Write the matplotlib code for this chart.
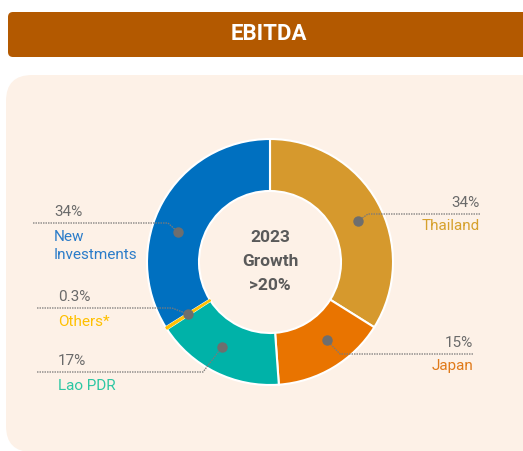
import numpy as np
import matplotlib
matplotlib.use("Agg")
import matplotlib.pyplot as plt
from matplotlib.patches import FancyBboxPatch

plt.rcParams['font.family'] = ['Roboto', 'DejaVu Sans']

title = "EBITDA"
center_lines = ["2023", "Growth", ">20%"]
categories = ["Thailand", "Japan", "Lao PDR", "Others*", "New\nInvestments"]
values = [34, 15, 17, 0.3, 34]
pct_labels = ["34%", "15%", "17%", "0.3%", "34%"]
colors = ["#D6992D", "#E97400", "#00B2A8", "#FFC000", "#0070C0"]
label_colors = ["#D6A12D", "#E07A1A", "#2DC7A3", "#FFC000", "#2B7CC9"]

W, H = 523, 451
fig = plt.figure(figsize=(W / 100, H / 100), dpi=100)
ax = fig.add_axes([0, 0, 1, 1])
ax.set_xlim(0, W)
ax.set_ylim(0, H)
ax.set_aspect('equal')
ax.axis('off')
fig.patch.set_facecolor('white')

def Y(y):
    return H - y

# panel
panel = FancyBboxPatch((6, Y(452)), 540, 452 - 75, boxstyle="round,pad=0,rounding_size=26",
                       facecolor="#FDF1E7", edgecolor="none", zorder=0)
ax.add_patch(panel)
# title bar
bar = FancyBboxPatch((8, Y(57)), 560, 45, boxstyle="round,pad=0,rounding_size=5",
                     facecolor="#B35900", edgecolor="none", zorder=1)
ax.add_patch(bar)
ax.text(269, Y(34.5), title, color="white", fontsize=16, fontweight="bold",
        ha="center", va="center", zorder=2)

cx, cy, R = 270, Y(262), 123
wedges, _ = ax.pie(values, colors=colors, startangle=90, counterclock=False,
                   center=(cx, cy), radius=R, frame=True,
                   wedgeprops=dict(width=R - 71, edgecolor="white", linewidth=1.5))
ax.set_xlim(0, W)
ax.set_ylim(0, H)
ax.axis('off')
# keep the tiny slice visible
wedges[3].set_edgecolor(colors[3])
wedges[3].set_linewidth(0.8)
wedges[3].set_zorder(3)

for i, line in enumerate(center_lines):
    ax.text(cx, Y(237 + 24 * i), line, color="#5A5A5A", fontsize=12.5,
            fontweight="bold", ha="center", va="center")

# leader layout: (side, line_y, line_x_outer, elbow_x)
layout = {
    0: ("right", 214, 480, 368),
    1: ("right", 354, 473, 340),
    2: ("left", 372, 37, 203),
    3: ("left", 308, 37, 172),
    4: ("left", 223, 33, 168),
}
angle_adjust = {0: -4, 1: 5, 2: -3, 3: 0, 4: 11}
rdot = (R + 71) / 2
for i, w in enumerate(wedges):
    side, ly, lx, ex = layout[i]
    mid = np.deg2rad((w.theta1 + w.theta2) / 2 + angle_adjust[i])
    dx, dy = cx + rdot * np.cos(mid), cy + rdot * np.sin(mid)
    ax.plot([lx, ex, dx], [Y(ly), Y(ly), dy], color="#7A7A7A", lw=0.9,
            ls=(0, (1.2, 0.8)), zorder=5)
    ax.plot(dx, dy, 'o', color="#6E6E6E", ms=6.5, zorder=6)
    if side == "right":
        ax.text(lx, Y(ly - 4), pct_labels[i], color="#6A6A6A", fontsize=11,
                ha="right", va="bottom")
        ax.text(lx, Y(ly + 5), categories[i], color=label_colors[i], fontsize=11,
                ha="right", va="top", linespacing=1.35)
    else:
        ax.text(lx + 21, Y(ly - 4), pct_labels[i], color="#6A6A6A", fontsize=11,
                ha="left", va="bottom")
        ax.text(lx + 21, Y(ly + 7), categories[i], color=label_colors[i], fontsize=11,
                ha="left", va="top", linespacing=1.35)

fig.savefig("out.png", dpi=100)
